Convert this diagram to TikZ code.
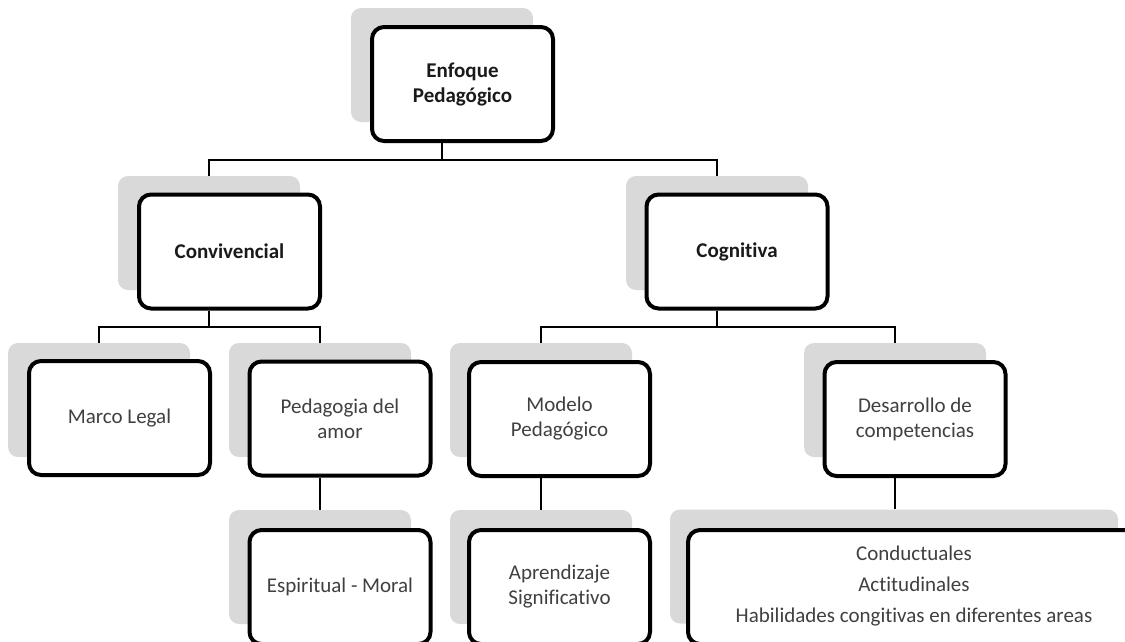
\documentclass[tikz,border=0pt]{standalone}
\usepackage{fontspec}
\setmainfont{Carlito}[Ligatures={NoCommon}]
\definecolor{shadowgray}{HTML}{D9D9D9}
\definecolor{txtgray}{HTML}{404040}
\definecolor{txtdark}{HTML}{1A1A1A}
\tikzset{
  mainbox/.style={draw=black, line width=4pt, rounded corners=12pt, fill=white,
    minimum width=181pt, minimum height=114pt, inner sep=0pt, align=center,
    text=txtgray, font=\fontsize{21}{25}\selectfont},
  boldbox/.style={mainbox, text=txtdark, font=\fontsize{21}{25}\selectfont\bfseries},
  shadowbox/.style={fill=shadowgray, draw=none, rounded corners=10pt,
    minimum width=182pt, minimum height=114pt, inner sep=0pt},
  plaintext/.style={align=center, inner sep=0pt, text=txtgray, font=\fontsize{21}{31}\selectfont},
  conn/.style={draw=black, line width=1.3pt},
}
\begin{document}
\begin{tikzpicture}[x=1pt,y=-1pt]
\useasboundingbox (0,0) rectangle (1125,641);
\clip (0,0) rectangle (1125,641);
\fill[white] (0,0) rectangle (1125,641);
% shadows
\node[shadowbox] (sEnf) at (442,65) {};
\node[shadowbox] (sConv) at (209,233) {};
\node[shadowbox] (sCog) at (717,233) {};
\node[shadowbox] (sMar) at (99,400) {};
\node[shadowbox] (sPed) at (320,400) {};
\node[shadowbox] (sMod) at (541,400) {};
\node[shadowbox] (sDes) at (895,400) {};
\node[shadowbox] (sEsp) at (320,567) {};
\node[shadowbox] (sApr) at (541,567) {};
\node[shadowbox, minimum width=448pt] (sCon) at (894,566.5) {};
% main boxes
\node[boldbox] (enf) at (462.5,84) {Enfoque\\Pedagógico};
\node[boldbox] (conv) at (229.5,251.5) {Convivencial};
\node[boldbox] (cog) at (737,251.5) {Cognitiva};
\node[mainbox] (mar) at (119.5,418) {Marco Legal};
\node[mainbox] (ped) at (340,418.5) {Pedagogia del\\amor};
\node[mainbox] (mod) at (559.5,419) {Modelo\\Pedagógico};
\node[mainbox] (des) at (915,419) {Desarrollo de\\competencias};
\node[mainbox] (esp) at (340,587) {Espiritual - Moral};
\node[mainbox] (apr) at (559.5,587) {Aprendizaje\\Significativo};
\node[mainbox, minimum width=500pt] (con) at (938,587) {};
\node[plaintext] (contxt) at (914,586)
  {Conductuales\\Actitudinales\\Habilidades congitivas en diferentes areas};
% connectors
\draw[conn] (sEnf.center |- enf.south) -- (sEnf.center |- 0,160) -| (sConv.north);
\draw[conn] (sEnf.center |- 0,160) -| (sCog.north);
\draw[conn] (sConv.center |- conv.south) -- (sConv.center |- 0,327) -| (sMar.north);
\draw[conn] (sConv.center |- 0,327) -| (sPed.north);
\draw[conn] (sCog.center |- cog.south) -- (sCog.center |- 0,327) -| (sMod.north);
\draw[conn] (sCog.center |- 0,327) -| (sDes.north);
\draw[conn] (sPed.center |- ped.south) -- (sPed.center |- sEsp.north);
\draw[conn] (sMod.center |- mod.south) -- (sMod.center |- sApr.north);
\draw[conn] (sDes.center |- des.south) -- (sDes.center |- sCon.north);
\end{tikzpicture}
\end{document}
